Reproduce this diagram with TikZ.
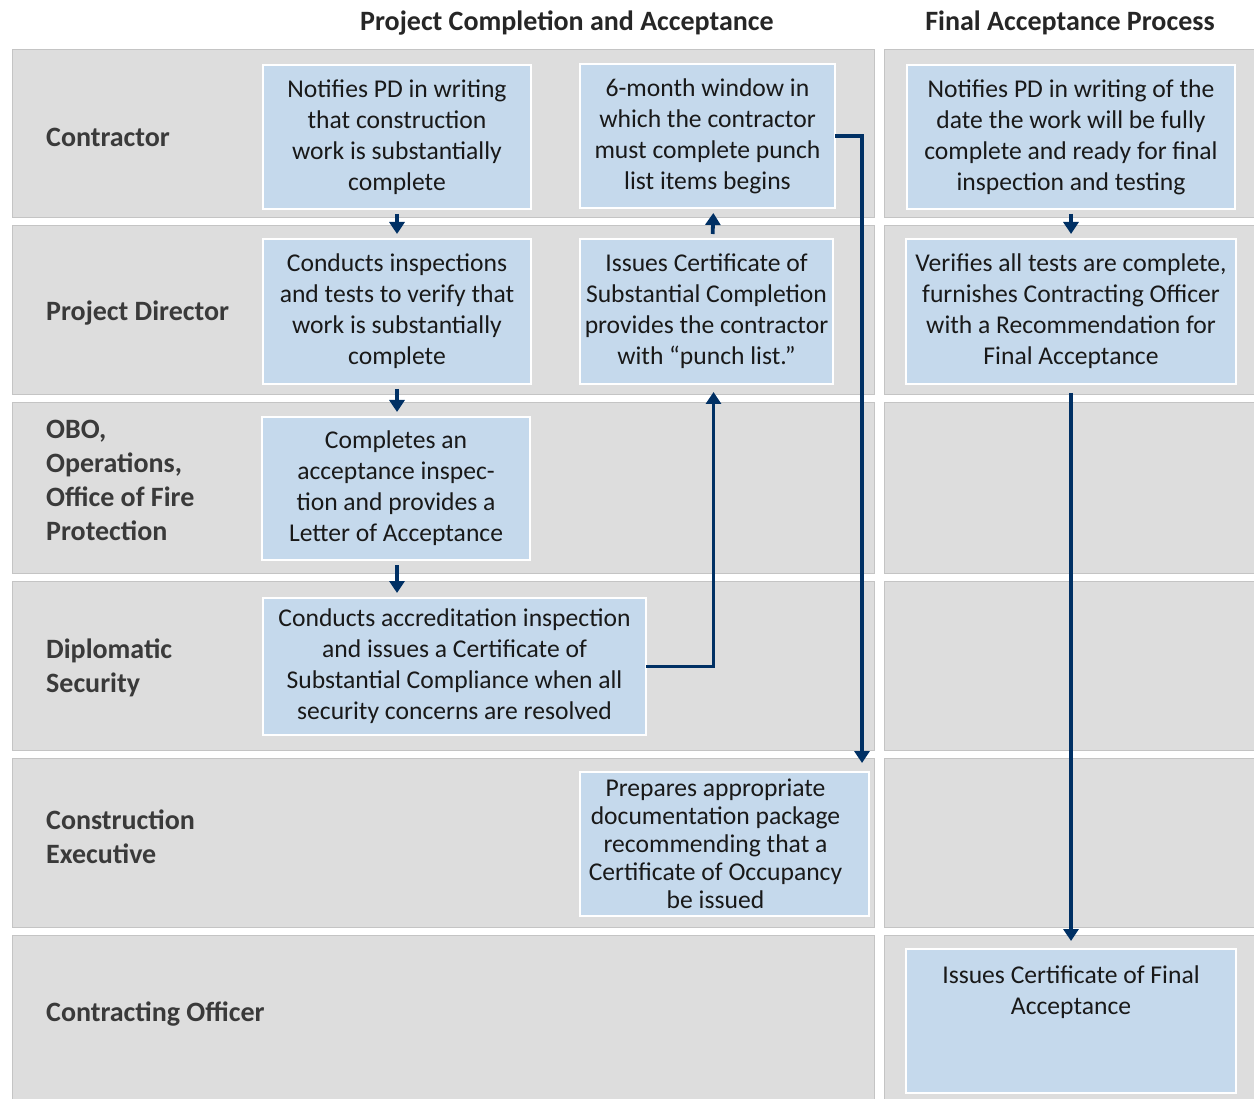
\documentclass[tikz,border=0pt]{standalone}
\usepackage{fontspec}
\setmainfont{Carlito}
\usetikzlibrary{arrows.meta}

\definecolor{bandgray}{RGB}{221,221,221}
\definecolor{bandline}{RGB}{196,196,196}
\definecolor{boxblue}{RGB}{197,217,236}
\definecolor{flownavy}{RGB}{0,48,100}
\definecolor{lanegray}{RGB}{58,58,58}
\newcommand{\padr}{\rule{18pt}{0pt}}

\begin{document}
\begin{tikzpicture}[x=1pt,y=-1pt,
    band/.style={fill=bandgray, draw=bandline, line width=1pt},
    lane/.style={anchor=west, align=left, inner sep=0pt, text=lanegray,
      font=\fontsize{28}{34}\selectfont\bfseries},
    stage/.style={fill=boxblue, draw=white, line width=2.5pt, outer sep=0pt,
      inner sep=0pt, align=center, text=black!90,
      font=\fontsize{25.6}{31}\selectfont},
    flow/.style={draw=flownavy, line width=3.8pt,
      -{Triangle[width=15pt,length=12pt]}}]
  \useasboundingbox (0,0) rectangle (1254,1099);

  % swimlane bands
  \foreach \top/\bot in {50/218, 226/395, 403/573, 581/750, 758/927, 935/1099} {
    \path[band] (12,\top) rectangle (874,\bot);
    \path[band] (884,\top) rectangle (1254,\bot);
  }

  % column headings
  \begin{scope}[every node/.style={font=\fontsize{28}{34}\selectfont\bfseries, text=black!85}]
    \node (hleft) at (567,23) {Project Completion and Acceptance};
    \node (hright) at (1070,23) {Final Acceptance Process};
  \end{scope}

  % lane labels
  \node[lane] (lcon) at (46,137) {Contractor};
  \node[lane] (lpd) at (46,313) {Project Director};
  \node[lane] (lobo) at (46,480) {OBO,\\Operations,\\Office of Fire\\Protection};
  \node[lane] (lds) at (46,668) {Diplomatic\\Security};
  \node[lane] (lce) at (46,837) {Construction\\Executive};
  \node[lane] (lco) at (46,1014) {Contracting Officer};

  % steps
  \begin{scope}[every node/.style={stage}]
    \node[minimum width=268, minimum height=144] (A1) at (397,137)
      {Notifies PD in writing\\that construction\\work is substantially\\complete};
    \node[minimum width=255, minimum height=144] (A2) at (707.5,136)
      {6-month window in\\which the contractor\\must complete punch\\list items begins};
    \node[minimum width=328, minimum height=144] (A3) at (1071,137)
      {Notifies PD in writing of the\\date the work will be fully\\complete and ready for final\\inspection and testing};
    \node[minimum width=268, minimum height=145] (B1) at (397,311.5)
      {Conducts inspections\\and tests to verify that\\work is substantially\\complete};
    \node[minimum width=253, minimum height=145] (B2) at (706.5,311.5)
      {Issues Certificate of\\Substantial Completion\\provides the contractor\\with “punch list.”};
    \node[minimum width=330, minimum height=145] (B3) at (1071,311.5)
      {Verifies all tests are complete,\\furnishes Contracting Officer\\with a Recommendation for\\Final Acceptance};
    \node[minimum width=268, minimum height=143] (C1) at (396,488.5)
      {Completes an\\acceptance inspec-\\tion and provides a\\Letter of Acceptance};
    \node[minimum width=383, minimum height=137] (D1) at (454.5,666.5)
      {Conducts accreditation inspection\\and issues a Certificate of\\Substantial Compliance when all\\security concerns are resolved};
    \node[minimum width=289, minimum height=144, font=\fontsize{25.6}{28}\selectfont] (E1) at (724.5,844)
      {Prepares appropriate\padr\\documentation package\padr\\recommending that a\padr\\Certificate of Occupancy\padr\\be issued\padr};
    \node[minimum width=330, minimum height=144] (F1) at (1071,1021)
      {Issues Certificate of Final\\Acceptance\\~\\~};
  \end{scope}

  % connectors
  \begin{scope}[every edge/.style={flow, shorten <=5pt, shorten >=5pt}]
    \path (A1) edge (B1);
    \path (B1.south) edge (B1.south |- C1.north);
    \path (B1.south |- C1.south) edge (B1.south |- D1.north);
    \path ([xshift=6pt]B2.north) edge ([xshift=6pt]A2.south);
    \path (A3) edge (B3);
    \path (B3) edge[shorten <=9pt, shorten >=8pt] (F1);
  \end{scope}
  \draw[flow] (D1.east) -| ([xshift=7pt,yshift=-8pt]B2.south);
  \draw[flow] (A2.east) -| ([xshift=-7pt,yshift=9pt]E1.north east);
\end{tikzpicture}
\end{document}
